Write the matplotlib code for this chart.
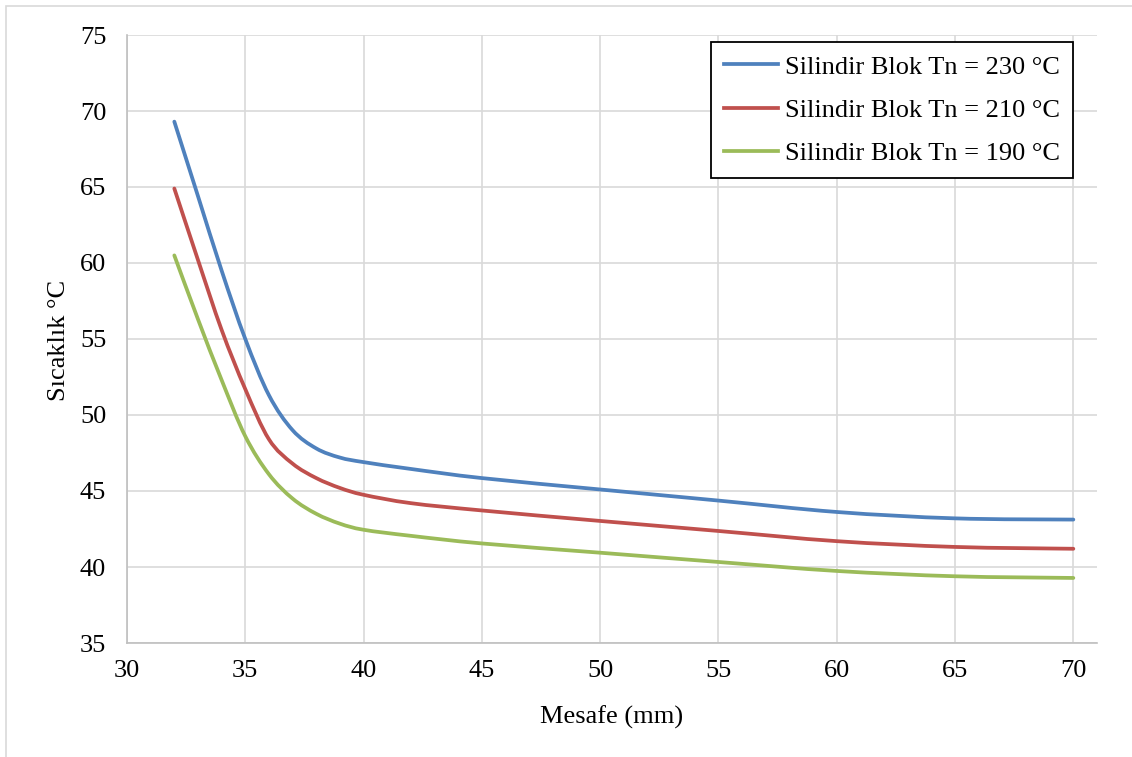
import numpy as np
import matplotlib
matplotlib.use("Agg")
import matplotlib.pyplot as plt
from matplotlib.path import Path
from matplotlib.patches import PathPatch, Rectangle
from matplotlib.lines import Line2D

# Distance from the heated block (mm) and measured temperatures (°C)
mesafe = [32, 33, 34, 35, 36, 37, 38, 39, 40, 42, 45, 50, 55, 60, 65, 70]
tn_230 = [69.3, 64.4, 59.5, 55.0, 51.3, 49.0, 47.8, 47.2, 46.9, 46.45, 45.85, 45.1, 44.37, 43.62, 43.2, 43.12]
tn_210 = [64.9, 60.2, 55.6, 51.7, 48.4, 46.8, 45.85, 45.2, 44.75, 44.2, 43.72, 43.03, 42.37, 41.7, 41.32, 41.2]
tn_190 = [60.5, 56.3, 52.3, 48.6, 46.1, 44.5, 43.5, 42.85, 42.45, 42.05, 41.55, 40.94, 40.33, 39.74, 39.39, 39.28]

series_labels = ["Silindir Blok Tn = 230 °C", "Silindir Blok Tn = 210 °C", "Silindir Blok Tn = 190 °C"]
series_colors = ["#4F81BD", "#C0504D", "#9BBB59"]

x_ticks = [30, 35, 40, 45, 50, 55, 60, 65, 70]
y_ticks = [35, 40, 45, 50, 55, 60, 65, 70, 75]

plt.rcParams["font.family"] = ["Liberation Serif", "DejaVu Serif"]
plt.rcParams["font.size"] = 19


def smooth_path(xs, ys):
    """Catmull-Rom style smoothed path (cubic Bezier segments) through the points."""
    pts = np.column_stack([xs, ys]).astype(float)
    n = len(pts)
    verts = [tuple(pts[0])]
    codes = [Path.MOVETO]
    for i in range(n - 1):
        p0 = pts[max(i - 1, 0)]
        p1 = pts[i]
        p2 = pts[i + 1]
        p3 = pts[min(i + 2, n - 1)]
        c1 = p1 + (p2 - p0) / 6.0
        c2 = p2 - (p3 - p1) / 6.0
        verts += [tuple(c1), tuple(c2), tuple(p2)]
        codes += [Path.CURVE4] * 3
    return Path(verts, codes)


fig = plt.figure(figsize=(11.32, 7.57), dpi=100)
ax = fig.add_axes([127 / 1132, 1 - 643 / 757, (1097 - 127) / 1132, (643 - 35) / 757])

LW = 2.7
handles = []
for ys, lab, col in zip([tn_230, tn_210, tn_190], series_labels, series_colors):
    patch = PathPatch(smooth_path(mesafe, ys), facecolor="none", edgecolor=col,
                      lw=LW, capstyle="round", joinstyle="round", zorder=3)
    ax.add_patch(patch)
    handles.append(Line2D([], [], color=col, lw=LW, label=lab))

ax.set_xlim(30, 71)
ax.set_ylim(35, 75)
ax.set_xticks(x_ticks)
ax.set_yticks(y_ticks)
ax.tick_params(length=0, labelsize=19)
ax.tick_params(axis="y", pad=15)
ax.tick_params(axis="x", pad=12)

ax.grid(True, color="#d9d9d9", lw=1.2)
ax.set_axisbelow(True)
for side in ("top", "right"):
    ax.spines[side].set_visible(False)
for side in ("left", "bottom"):
    ax.spines[side].set_color("#bfbfbf")
    ax.spines[side].set_linewidth(1.2)

ax.set_xlabel("Mesafe (mm)", fontsize=19)
ax.set_ylabel("Sıcaklık °C", fontsize=19)
ax.xaxis.set_label_coords((612 - 127) / 970, -(706 - 643) / 608)
ax.yaxis.set_label_coords(-(127 - 70) / 970, (643 - 340) / 608)

leg = ax.legend(handles=handles, loc="upper right",
                bbox_to_anchor=(1073 / 1132, 1 - 42 / 757), bbox_transform=fig.transFigure,
                borderaxespad=0, fancybox=False, framealpha=1, edgecolor="black",
                fontsize=19, handlelength=2.05, handletextpad=0.25, labelspacing=0.75,
                borderpad=0.5)
leg.get_frame().set_linewidth(1.3)

# light outer chart border
fig.patches.append(Rectangle((6 / 1132, -0.05), 1.2, 1 - 6 / 757 + 0.05,
                             transform=fig.transFigure, fill=False,
                             edgecolor="#d9d9d9", lw=1.2))

fig.savefig("out.png", dpi=100)
